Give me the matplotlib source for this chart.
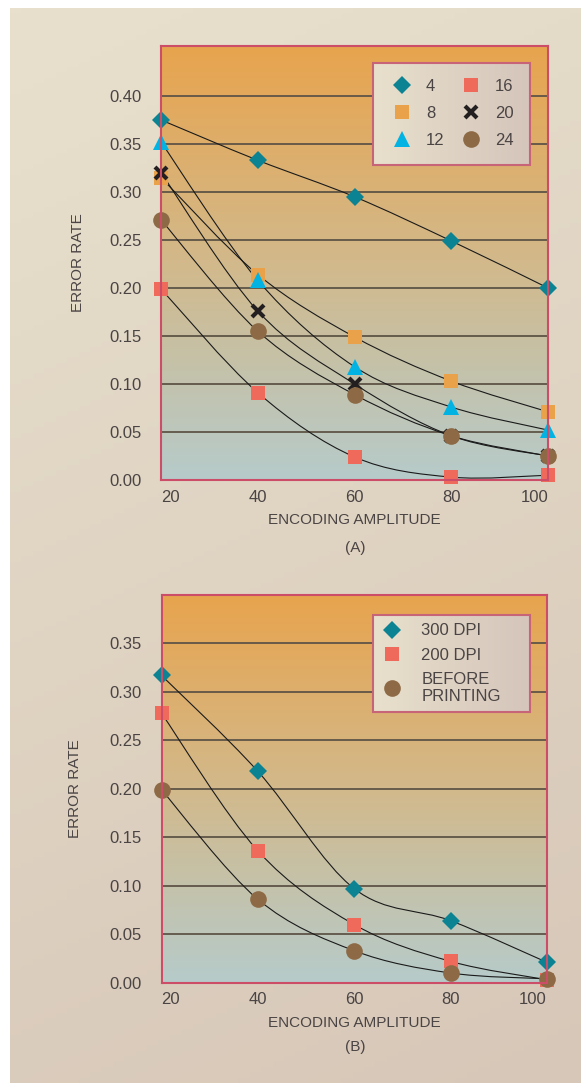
import numpy as np
import matplotlib
matplotlib.use("Agg")
import matplotlib.pyplot as plt
from matplotlib.path import Path
from matplotlib.patches import PathPatch
from matplotlib.colors import LinearSegmentedColormap

# amplitudes on the x axis
amp = [20, 40, 60, 80, 100]

# panel (A): error rate per curve label
a_labels = ["4", "8", "12", "16", "20", "24"]
err_a_4 = [0.375, 0.333, 0.295, 0.249, 0.200]
err_a_8 = [0.315, 0.214, 0.149, 0.103, 0.071]
err_a_12 = [0.352, 0.208, 0.118, 0.076, 0.052]
err_a_16 = [0.199, 0.091, 0.024, 0.003, 0.005]
err_a_20 = [0.320, 0.176, 0.100, 0.046, 0.025]
err_a_24 = [0.271, 0.155, 0.089, 0.046, 0.025]

# panel (B)
b_labels = ["300 DPI", "200 DPI", "BEFORE\nPRINTING"]
err_b_300 = [0.317, 0.218, 0.097, 0.064, 0.021]
err_b_200 = [0.278, 0.136, 0.060, 0.022, 0.003]
err_b_before = [0.199, 0.086, 0.033, 0.010, 0.004]

TEAL = "#0b8393"
ORANGE = "#e9a24a"
CYAN = "#00b3e3"
SALMON = "#f06a5c"
BLACK = "#231f20"
BROWN = "#8d6a45"
SPINE = "#cc4d68"
GRID = "#5e5446"
TXT = "#4a4444"

plt.rcParams["font.family"] = ["Liberation Sans", "DejaVu Sans"]
plt.rcParams["font.size"] = 11
plt.rcParams["text.color"] = TXT


def smooth_path(x, y):
    # catmull-rom through the points, drawn as cubic bezier segments
    pts = np.column_stack([x, y]).astype(float)
    ext = np.vstack([pts[0], pts, pts[-1]])
    verts = [pts[0]]
    codes = [Path.MOVETO]
    for i in range(len(pts) - 1):
        p0, p1, p2, p3 = ext[i], ext[i + 1], ext[i + 2], ext[i + 3]
        verts += [p1 + (p2 - p0) / 6, p2 - (p3 - p1) / 6, p2]
        codes += [Path.CURVE4] * 3
    return Path(verts, codes)


fig = plt.figure(figsize=(5.81, 10.83), dpi=100, facecolor="white")

# page background
bg = fig.add_axes([10 / 581, 0, 571 / 581, 1075 / 1083], zorder=-10)
bg.axis("off")
gy, gx = np.mgrid[0:1:200j, 0:1:50j]
bg_cmap = LinearSegmentedColormap.from_list("bg", ["#e8e0cd", "#d7c7b8"])
bg.imshow(0.8 * gy + 0.2 * gx, cmap=bg_cmap, aspect="auto", extent=(0, 1, 0, 1))

plot_cmap = LinearSegmentedColormap.from_list("plot", ["#b6cbca", "#d2b98b", "#e8a44e"])
leg_cmap = LinearSegmentedColormap.from_list("leg", ["#e8e0cc", "#d5c5bb"])


def style_axes(ax, ymax, yticks, label_x):
    grad = np.linspace(0, 1, 256).reshape(-1, 1)
    ax.imshow(grad, cmap=plot_cmap, aspect="auto", origin="lower",
              extent=(0, 1, 0, 1), transform=ax.transAxes, zorder=0)
    ax.set_xlim(20, 100)
    ax.set_ylim(0, ymax)
    ax.set_yticks(yticks)
    ax.set_yticklabels([f"{v:.2f}" for v in yticks])
    ax.set_xticks(amp)
    ax.set_xticklabels([str(a) for a in amp])
    xl = ax.get_xticklabels()
    xl[0].set_ha("left")
    xl[-1].set_ha("right")
    ax.tick_params(length=0, labelcolor=TXT, labelsize=12)
    ax.tick_params(axis="y", pad=14)
    ax.tick_params(axis="x", pad=7)
    ax.set_axisbelow("line")
    ax.grid(axis="y", color=GRID, lw=1.3)
    ax.grid(axis="x", visible=False)
    for s in ax.spines.values():
        s.set_color(SPINE)
        s.set_linewidth(1.5)
        s.set_zorder(4)
    ax.set_xlabel("ENCODING AMPLITUDE", fontsize=11, color=TXT, labelpad=6)
    ax.set_ylabel("ERROR RATE", fontsize=11, color=TXT)
    ax.yaxis.set_label_coords(label_x, 0.5)


def add_series(ax, y, marker, color, ms, label, mew=0):
    ax.add_patch(PathPatch(smooth_path(amp, y), fill=False, ec="#1a1a1a",
                           lw=0.8, zorder=2, clip_on=False))
    ax.plot(amp, y, ls="none", marker=marker, color=color, ms=ms,
            mew=mew, mec=color, label=label, zorder=3, clip_on=False)


def gradient_legend(ax, leg):
    fig.canvas.draw()
    bb = leg.get_frame().get_window_extent().transformed(ax.transAxes.inverted())
    leg.get_frame().set_facecolor("none")
    grad = np.linspace(0, 1, 100).reshape(1, -1)
    ax.imshow(grad, cmap=leg_cmap, aspect="auto",
              extent=(bb.x0, bb.x1, bb.y0, bb.y1), transform=ax.transAxes, zorder=4.5)


# ---------- panel A ----------
ax1 = fig.add_axes([161 / 581, 1 - 480 / 1083, 387 / 581, 434 / 1083])
style_axes(ax1, 0.452, np.arange(0, 0.401, 0.05), -0.197)

add_series(ax1, err_a_4, "D", TEAL, 8.8, a_labels[0])
add_series(ax1, err_a_8, "s", ORANGE, 9.6, a_labels[1])
add_series(ax1, err_a_12, "^", CYAN, 12, a_labels[2])
add_series(ax1, err_a_16, "s", SALMON, 9.6, a_labels[3])
add_series(ax1, err_a_20, "x", BLACK, 9, a_labels[4], mew=3)
add_series(ax1, err_a_24, "o", BROWN, 12, a_labels[5])

leg1 = ax1.legend(loc="upper left", bbox_to_anchor=(0.548, 0.961 - 0.228, 0.406, 0.228),
                  mode="expand", borderaxespad=0, ncol=2, fontsize=12,
                  handlelength=1.5, handletextpad=0.7, columnspacing=2.0,
                  borderpad=0.98, labelspacing=0.72, fancybox=False,
                  edgecolor="#c86478", framealpha=1)
leg1.get_frame().set_linewidth(1.5)
leg1.set_zorder(5)
ax1.set_xlim(20, 100)
ax1.set_ylim(0, 0.452)

fig.text(355 / 581, 1 - 548 / 1083, "(A)", ha="center", va="center", fontsize=11, color=TXT)

# ---------- panel B ----------
ax2 = fig.add_axes([161.5 / 581, 1 - 982.7 / 1083, 385.5 / 581, 387.7 / 1083])
style_axes(ax2, 0.40, np.arange(0, 0.351, 0.05), -0.206)

add_series(ax2, err_b_300, "D", TEAL, 9.6, b_labels[0])
add_series(ax2, err_b_200, "s", SALMON, 9.6, b_labels[1])
add_series(ax2, err_b_before, "o", BROWN, 12, b_labels[2])

leg2 = ax2.legend(loc="upper left", bbox_to_anchor=(0.5486, 0.948 - 0.253, 0.407, 0.253),
                  mode="expand", borderaxespad=0, ncol=1, fontsize=12,
                  handlelength=1.3, handletextpad=1.1, borderpad=0.5,
                  labelspacing=0.55, fancybox=False, edgecolor="#c86478", framealpha=1)
leg2.get_frame().set_linewidth(1.5)
leg2.set_zorder(5)
for t in leg2.get_texts():
    t.set_linespacing(1.15)
ax2.set_xlim(20, 100)
ax2.set_ylim(0, 0.40)

fig.text(355 / 581, 1 - 1047 / 1083, "(B)", ha="center", va="center", fontsize=11, color=TXT)

gradient_legend(ax1, leg1)
gradient_legend(ax2, leg2)
for ax, ymax in ((ax1, 0.452), (ax2, 0.40)):
    ax.set_xlim(20, 100)
    ax.set_ylim(0, ymax)

fig.savefig("out.png", dpi=100, facecolor="white")
